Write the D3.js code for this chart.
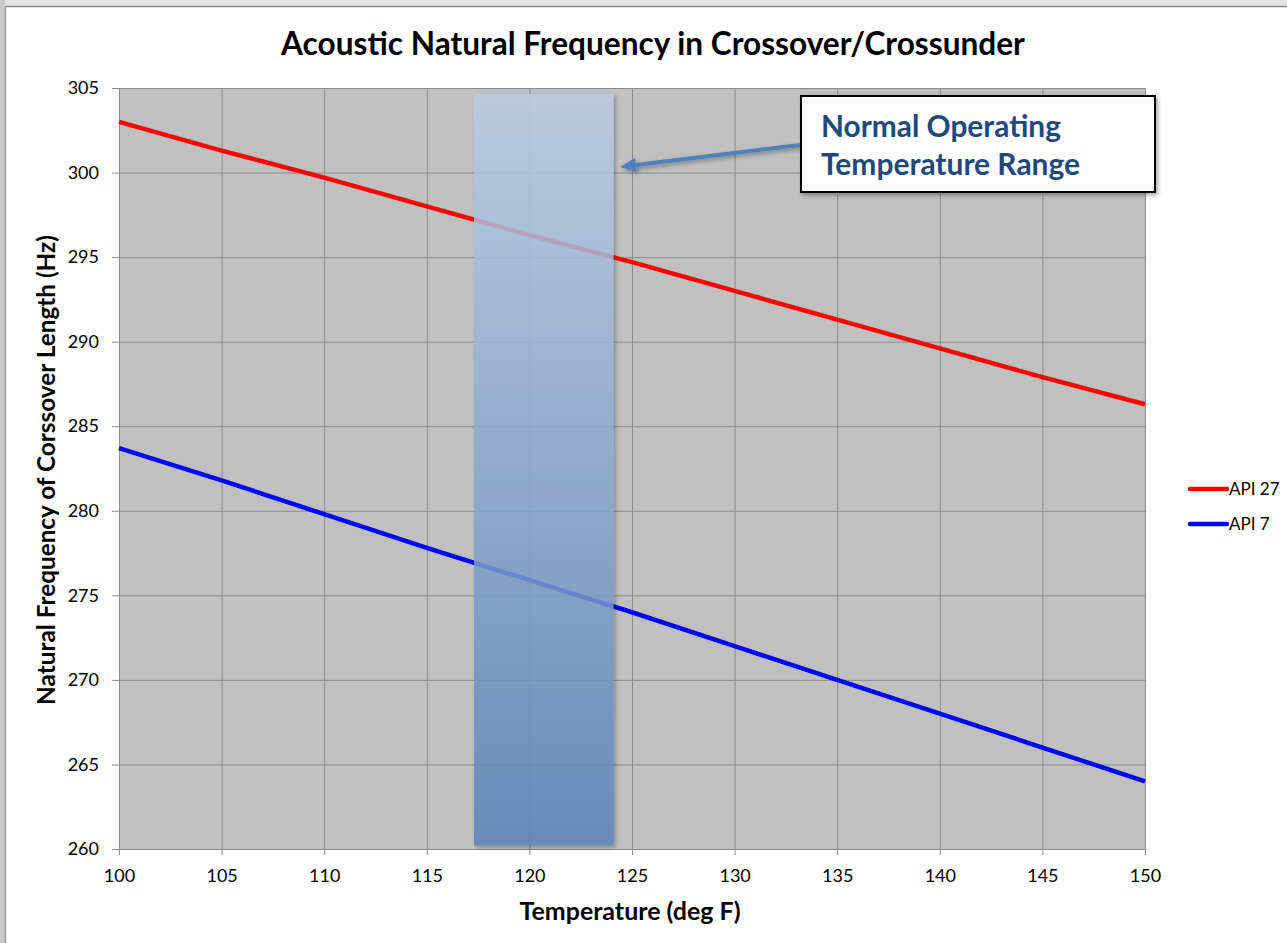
<!DOCTYPE html>
<html><head><meta charset="utf-8">
<script src="https://cdn.jsdelivr.net/npm/d3@7"></script>
<style>
html,body{margin:0;padding:0;background:#fff;}
svg{display:block;font-family:Lato,"Open Sans",sans-serif;}
</style></head>
<body>
<svg id="chart" width="1287" height="943"></svg>
<script>
// ---- data ----
const temperatures = [100,105,110,115,120,125,130,135,140,145,150];
const api27 = [303.0,301.3,299.7,298.0,296.3,294.7,293.0,291.3,289.6,287.9,286.3];
const api7  = [283.7,281.8,279.8,277.8,275.9,274.0,272.0,270.0,268.0,266.0,264.0];
const seriesNames = ["API 27","API 7"];
const seriesColors = ["#ff0000","#0000ff"];
const xTicks = [100,105,110,115,120,125,130,135,140,145,150];
const yTicks = [260,265,270,275,280,285,290,295,300,305];
const rangeLow = 117.3, rangeHigh = 124.1, rangeTop = 304.65, rangeBottom = 260.2;
const titleText = "Acoustic Natural Frequency in Crossover/Crossunder";
const xTitle = "Temperature (deg F)";
const yTitle = "Natural Frequency of Corssover Length (Hz)";
const noteLines = ["Normal Operating","Temperature Range"];

const svg = d3.select("#chart");
const W = 1287, H = 943;
const m = {left:119, right:1145, top:88, bottom:849};

// fit a text element's font size so that its width matches a target width
function fit(sel, target){
  const n = sel.node();
  const fs = parseFloat(sel.attr("font-size"));
  const w = n.getComputedTextLength();
  if (w > 0) sel.attr("font-size", (fs*target/w).toFixed(2));
  return sel;
}

// frame
svg.append("rect").attr("x",0).attr("y",0).attr("width",W).attr("height",H).attr("fill","#fff");
svg.append("rect").attr("x",0).attr("y",0).attr("width",W).attr("height",6).attr("fill","#e3e3e3");
svg.append("rect").attr("x",0).attr("y",0).attr("width",5).attr("height",H).attr("fill","#c8c8c8");
svg.append("line").attr("x1",5).attr("x2",W).attr("y1",6.5).attr("y2",6.5).attr("stroke","#8a8a8a").attr("stroke-width",1.5);
svg.append("line").attr("x1",5.5).attr("x2",5.5).attr("y1",6).attr("y2",H).attr("stroke","#9a9a9a").attr("stroke-width",1.5);

const x = d3.scaleLinear().domain([100,150]).range([m.left,m.right]);
const y = d3.scaleLinear().domain([260,305]).range([m.bottom,m.top]);

const defs = svg.append("defs");
const grad = defs.append("linearGradient").attr("id","rg").attr("x1",0).attr("x2",0).attr("y1",0).attr("y2",1);
grad.append("stop").attr("offset","0%").attr("stop-color","#b9cce4");
grad.append("stop").attr("offset","100%").attr("stop-color","#5a83b8");
const sh = defs.append("filter").attr("id","sh").attr("x","-10%").attr("y","-10%").attr("width","130%").attr("height","130%");
sh.append("feDropShadow").attr("dx",2).attr("dy",2).attr("stdDeviation",2).attr("flood-color","#000").attr("flood-opacity",0.35);

// plot background
svg.append("rect").attr("x",m.left).attr("y",m.top).attr("width",m.right-m.left).attr("height",m.bottom-m.top).attr("fill","#c0c0c0");

// gridlines
svg.append("g").selectAll("line").data(xTicks).join("line")
  .attr("x1",d=>x(d)+0.5).attr("x2",d=>x(d)+0.5).attr("y1",m.top).attr("y2",m.bottom+6)
  .attr("stroke","#8c8c8c").attr("stroke-width",1);
svg.append("g").selectAll("line").data(yTicks).join("line")
  .attr("x1",m.left-7).attr("x2",m.right).attr("y1",d=>y(d)+0.5).attr("y2",d=>y(d)+0.5)
  .attr("stroke","#8c8c8c").attr("stroke-width",1);

// axes labels via d3 axes
const xAxis = svg.append("g").attr("transform",`translate(0,${m.bottom})`)
  .call(d3.axisBottom(x).tickValues(xTicks).tickSize(0).tickPadding(20));
xAxis.select(".domain").remove();
xAxis.selectAll("text").attr("font-size",18).attr("fill","#000").attr("font-family","Lato,sans-serif");
const yAxis = svg.append("g").attr("transform",`translate(${m.left},0)`)
  .call(d3.axisLeft(y).tickValues(yTicks).tickSize(0).tickPadding(20));
yAxis.select(".domain").remove();
yAxis.selectAll("text").attr("font-size",18).attr("fill","#000").attr("font-family","Lato,sans-serif");

// lines
const lineGen = d3.line().x((d,i)=>x(temperatures[i])).y(d=>y(d));
[api27, api7].forEach((s,k)=>{
  svg.append("path").datum(s).attr("d",lineGen).attr("fill","none")
    .attr("stroke",seriesColors[k]).attr("stroke-width",4.5);
});

// range rectangle
svg.append("rect").attr("x",x(rangeLow)).attr("y",y(rangeTop))
  .attr("width",x(rangeHigh)-x(rangeLow)).attr("height",y(rangeBottom)-y(rangeTop))
  .attr("fill","url(#rg)").attr("opacity",0.86).attr("filter","url(#sh)");

// arrow
const ax1 = 800, ay1 = 145, ax2 = 620, ay2 = 167;
const ang = Math.atan2(ay2-ay1, ax2-ax1);
const ag = svg.append("g").attr("filter","url(#sh)");
ag.append("line").attr("x1",ax1).attr("y1",ay1)
  .attr("x2",ax2 - 12*Math.cos(ang)).attr("y2",ay2 - 12*Math.sin(ang))
  .attr("stroke","#4f81bd").attr("stroke-width",4);
const hl = 16, hw = 7;
const bx = ax2 - hl*Math.cos(ang), by = ay2 - hl*Math.sin(ang);
ag.append("path").attr("d",`M${ax2},${ay2}L${bx + hw*Math.sin(ang)},${by - hw*Math.cos(ang)}L${bx - hw*Math.sin(ang)},${by + hw*Math.cos(ang)}Z`)
  .attr("fill","#4f81bd");

// note box
svg.append("rect").attr("x",801).attr("y",96).attr("width",354).attr("height",96)
  .attr("fill","#fff").attr("stroke","#000").attr("stroke-width",2).attr("filter","url(#sh)");
const noteWidths = [240, 259];
noteLines.forEach((t,i)=>{
  const tx = svg.append("text").attr("x",821).attr("y",137+38*i).text(t)
    .attr("font-size",26).attr("font-weight","bold").attr("fill","#1f497d");
  fit(tx, noteWidths[i]);
});

// titles
fit(svg.append("text").attr("x",653).attr("y",55).attr("text-anchor","middle").text(titleText)
  .attr("font-size",26).attr("font-weight","bold").attr("fill","#000"), 744);
fit(svg.append("text").attr("x",630).attr("y",920).attr("text-anchor","middle").text(xTitle)
  .attr("font-size",19).attr("font-weight","bold").attr("fill","#000"), 221);
fit(svg.append("text").attr("transform","translate(55,470) rotate(-90)").attr("text-anchor","middle").text(yTitle)
  .attr("font-size",19).attr("font-weight","bold").attr("fill","#000"), 470);

// legend
const lg = svg.append("g");
seriesNames.forEach((n,i)=>{
  const ly = 489 + 35*i;
  lg.append("line").attr("x1",1190).attr("x2",1227).attr("y1",ly).attr("y2",ly)
    .attr("stroke",seriesColors[i]).attr("stroke-width",4.5).attr("stroke-linecap","round");
  lg.append("text").attr("x",1229).attr("y",ly+6).text(n).attr("font-size",17).attr("fill","#000");
});
</script>
</body></html>
